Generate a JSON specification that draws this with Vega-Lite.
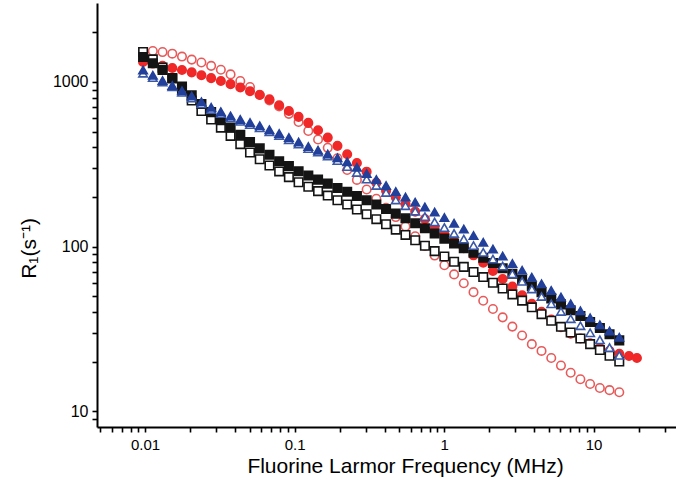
{
  "$schema": "https://vega.github.io/schema/vega-lite/v6.json",
  "autosize": {"type": "none"},
  "width": 579,
  "height": 424,
  "padding": {"left": 97, "top": 3, "right": 0, "bottom": 67},
  "background": "white",
  "config": {"view": {"stroke": null}, "font": "Liberation Sans"},
  "datasets": {
    "pts": [
      {"s":"RO","f":0.01127,"r":1543},{"s":"RO","f":0.01309,"r":1520},{"s":"RO","f":0.01521,"r":1486},{"s":"RO","f":0.01766,"r":1427},{"s":"RO","f":0.02051,"r":1368},{"s":"RO","f":0.02382,"r":1314},{"s":"RO","f":0.02767,"r":1253},{"s":"RO","f":0.03214,"r":1186},{"s":"RO","f":0.03733,"r":1112},{"s":"RO","f":0.04335,"r":1013},{"s":"RO","f":0.05035,"r":932},{"s":"RO","f":0.05848,"r":837},{"s":"RO","f":0.06792,"r":772},{"s":"RO","f":0.07889,"r":709},{"s":"RO","f":0.09162,"r":640},{"s":"RO","f":0.1064,"r":571},{"s":"RO","f":0.1236,"r":504},{"s":"RO","f":0.1436,"r":447},{"s":"RO","f":0.1667,"r":398},{"s":"RO","f":0.1936,"r":344},{"s":"RO","f":0.2249,"r":292},{"s":"RO","f":0.2612,"r":254},{"s":"RO","f":0.3034,"r":222},{"s":"RO","f":0.3524,"r":195},{"s":"RO","f":0.4093,"r":172},{"s":"RO","f":0.4753,"r":151},{"s":"RO","f":0.5521,"r":132.5},{"s":"RO","f":0.6412,"r":115.5},{"s":"RO","f":0.7447,"r":100.8},{"s":"RO","f":0.865,"r":88.1},{"s":"RO","f":1.005,"r":76.9},{"s":"RO","f":1.167,"r":67.7},{"s":"RO","f":1.355,"r":59.8},{"s":"RO","f":1.574,"r":52.8},{"s":"RO","f":1.828,"r":46.8},{"s":"RO","f":2.123,"r":41.7},{"s":"RO","f":2.466,"r":37.1},{"s":"RO","f":2.864,"r":32.6},{"s":"RO","f":3.327,"r":28.8},{"s":"RO","f":3.864,"r":25.5},{"s":"RO","f":4.487,"r":23.2},{"s":"RO","f":5.212,"r":21},{"s":"RO","f":6.053,"r":18.9},{"s":"RO","f":7.031,"r":17.1},{"s":"RO","f":8.166,"r":15.6},{"s":"RO","f":9.484,"r":14.6},{"s":"RO","f":11.02,"r":13.8},{"s":"RO","f":12.79,"r":13.4},{"s":"RO","f":14.86,"r":13},
      {"s":"RF","f":0.0097,"r":1323},{"s":"RF","f":0.01127,"r":1294},{"s":"RF","f":0.01309,"r":1253},{"s":"RF","f":0.01521,"r":1217},{"s":"RF","f":0.01766,"r":1183},{"s":"RF","f":0.02051,"r":1144},{"s":"RF","f":0.02382,"r":1098},{"s":"RF","f":0.02767,"r":1055},{"s":"RF","f":0.03214,"r":1013},{"s":"RF","f":0.03733,"r":970},{"s":"RF","f":0.04335,"r":925},{"s":"RF","f":0.05035,"r":879},{"s":"RF","f":0.05848,"r":834},{"s":"RF","f":0.06792,"r":784},{"s":"RF","f":0.07889,"r":722},{"s":"RF","f":0.09162,"r":666},{"s":"RF","f":0.1064,"r":614},{"s":"RF","f":0.1236,"r":564},{"s":"RF","f":0.1436,"r":509},{"s":"RF","f":0.1667,"r":459},{"s":"RF","f":0.1936,"r":409},{"s":"RF","f":0.2249,"r":364},{"s":"RF","f":0.2612,"r":322},{"s":"RF","f":0.3034,"r":285},{"s":"RF","f":0.3524,"r":244},{"s":"RF","f":0.4093,"r":218},{"s":"RF","f":0.4753,"r":199},{"s":"RF","f":0.5521,"r":181},{"s":"RF","f":0.6412,"r":163},{"s":"RF","f":0.7447,"r":146.7},{"s":"RF","f":0.865,"r":132.3},{"s":"RF","f":1.005,"r":119.1},{"s":"RF","f":1.167,"r":107.8},{"s":"RF","f":1.355,"r":97.6},{"s":"RF","f":1.574,"r":88.4},{"s":"RF","f":1.828,"r":79.7},{"s":"RF","f":2.123,"r":71},{"s":"RF","f":2.466,"r":63.5},{"s":"RF","f":2.864,"r":57.1},{"s":"RF","f":3.327,"r":50.6},{"s":"RF","f":3.864,"r":44.8},{"s":"RF","f":4.487,"r":40.1},{"s":"RF","f":5.212,"r":36},{"s":"RF","f":6.053,"r":32.3},{"s":"RF","f":7.031,"r":29.5},{"s":"RF","f":8.166,"r":27.6},{"s":"RF","f":9.484,"r":25.8},{"s":"RF","f":11.02,"r":24.2},{"s":"RF","f":12.79,"r":23.2},{"s":"RF","f":14.86,"r":22.3},{"s":"RF","f":17.26,"r":21.6},{"s":"RF","f":19.5,"r":21},
      {"s":"BO","f":0.0097,"r":1522},{"s":"BO","f":0.01127,"r":1372},{"s":"BO","f":0.01309,"r":1222},{"s":"BO","f":0.01521,"r":1049},{"s":"BO","f":0.01766,"r":900},{"s":"BO","f":0.02051,"r":772},{"s":"BO","f":0.02382,"r":666},{"s":"BO","f":0.02767,"r":592},{"s":"BO","f":0.03214,"r":528},{"s":"BO","f":0.03733,"r":470},{"s":"BO","f":0.04335,"r":419},{"s":"BO","f":0.05035,"r":373},{"s":"BO","f":0.05848,"r":339},{"s":"BO","f":0.06792,"r":311},{"s":"BO","f":0.07889,"r":286},{"s":"BO","f":0.09162,"r":264},{"s":"BO","f":0.1064,"r":246},{"s":"BO","f":0.1236,"r":231},{"s":"BO","f":0.1436,"r":217},{"s":"BO","f":0.1667,"r":204},{"s":"BO","f":0.1936,"r":191},{"s":"BO","f":0.2249,"r":180},{"s":"BO","f":0.2612,"r":168},{"s":"BO","f":0.3034,"r":157},{"s":"BO","f":0.3524,"r":146.6},{"s":"BO","f":0.4093,"r":136.5},{"s":"BO","f":0.4753,"r":126.7},{"s":"BO","f":0.5521,"r":117.6},{"s":"BO","f":0.6412,"r":109.2},{"s":"BO","f":0.7447,"r":101.1},{"s":"BO","f":0.865,"r":93.8},{"s":"BO","f":1.005,"r":87},{"s":"BO","f":1.167,"r":80.8},{"s":"BO","f":1.355,"r":75.2},{"s":"BO","f":1.574,"r":70},{"s":"BO","f":1.828,"r":65.2},{"s":"BO","f":2.123,"r":60.2},{"s":"BO","f":2.466,"r":55.6},{"s":"BO","f":2.864,"r":51.2},{"s":"BO","f":3.327,"r":46.9},{"s":"BO","f":3.864,"r":42.7},{"s":"BO","f":4.487,"r":38.8},{"s":"BO","f":5.212,"r":35.4},{"s":"BO","f":6.053,"r":32.5},{"s":"BO","f":7.031,"r":30},{"s":"BO","f":8.166,"r":27.6},{"s":"BO","f":9.484,"r":25.5},{"s":"BO","f":11.02,"r":23.5},{"s":"BO","f":12.79,"r":21.7},{"s":"BO","f":14.86,"r":20},
      {"s":"BF","f":0.0097,"r":1419},{"s":"BF","f":0.01127,"r":1299},{"s":"BF","f":0.01309,"r":1183},{"s":"BF","f":0.01521,"r":1058},{"s":"BF","f":0.01766,"r":939},{"s":"BF","f":0.02051,"r":830},{"s":"BF","f":0.02382,"r":734},{"s":"BF","f":0.02767,"r":656},{"s":"BF","f":0.03214,"r":586},{"s":"BF","f":0.03733,"r":528},{"s":"BF","f":0.04335,"r":478},{"s":"BF","f":0.05035,"r":432},{"s":"BF","f":0.05848,"r":395},{"s":"BF","f":0.06792,"r":361},{"s":"BF","f":0.07889,"r":330},{"s":"BF","f":0.09162,"r":308},{"s":"BF","f":0.1064,"r":287},{"s":"BF","f":0.1236,"r":270},{"s":"BF","f":0.1436,"r":255},{"s":"BF","f":0.1667,"r":241},{"s":"BF","f":0.1936,"r":227},{"s":"BF","f":0.2249,"r":215},{"s":"BF","f":0.2612,"r":203},{"s":"BF","f":0.3034,"r":191},{"s":"BF","f":0.3524,"r":180},{"s":"BF","f":0.4093,"r":169},{"s":"BF","f":0.4753,"r":158.5},{"s":"BF","f":0.5521,"r":148.4},{"s":"BF","f":0.6412,"r":138.6},{"s":"BF","f":0.7447,"r":129},{"s":"BF","f":0.865,"r":120.1},{"s":"BF","f":1.005,"r":111.7},{"s":"BF","f":1.167,"r":104.4},{"s":"BF","f":1.355,"r":97.8},{"s":"BF","f":1.574,"r":91.6},{"s":"BF","f":1.828,"r":85.5},{"s":"BF","f":2.123,"r":79.4},{"s":"BF","f":2.466,"r":73.7},{"s":"BF","f":2.864,"r":68.3},{"s":"BF","f":3.327,"r":62.7},{"s":"BF","f":3.864,"r":57.4},{"s":"BF","f":4.487,"r":52.7},{"s":"BF","f":5.212,"r":48.4},{"s":"BF","f":6.053,"r":44.5},{"s":"BF","f":7.031,"r":41},{"s":"BF","f":8.166,"r":37.8},{"s":"BF","f":9.484,"r":34.8},{"s":"BF","f":11.02,"r":32},{"s":"BF","f":12.79,"r":29.3},{"s":"BF","f":14.86,"r":26.9},
      {"s":"BTo","f":0.0097,"r":1130},{"s":"BTo","f":0.01127,"r":1063},{"s":"BTo","f":0.01309,"r":1000},{"s":"BTo","f":0.01521,"r":934},{"s":"BTo","f":0.01766,"r":865},{"s":"BTo","f":0.02051,"r":799},{"s":"BTo","f":0.02382,"r":737},{"s":"BTo","f":0.02767,"r":681},{"s":"BTo","f":0.03214,"r":642},{"s":"BTo","f":0.03733,"r":605},{"s":"BTo","f":0.04335,"r":576},{"s":"BTo","f":0.05035,"r":551},{"s":"BTo","f":0.05848,"r":526},{"s":"BTo","f":0.06792,"r":499},{"s":"BTo","f":0.07889,"r":473},{"s":"BTo","f":0.09162,"r":446},{"s":"BTo","f":0.1064,"r":419},{"s":"BTo","f":0.1236,"r":394},{"s":"BTo","f":0.1436,"r":375},{"s":"BTo","f":0.1667,"r":355},{"s":"BTo","f":0.1936,"r":333},{"s":"BTo","f":0.2249,"r":306},{"s":"BTo","f":0.2612,"r":282},{"s":"BTo","f":0.3034,"r":257},{"s":"BTo","f":0.3524,"r":235},{"s":"BTo","f":0.4093,"r":213},{"s":"BTo","f":0.4753,"r":192},{"s":"BTo","f":0.5521,"r":177},{"s":"BTo","f":0.6412,"r":164},{"s":"BTo","f":0.7447,"r":152},{"s":"BTo","f":0.865,"r":141.1},{"s":"BTo","f":1.005,"r":130.3},{"s":"BTo","f":1.167,"r":120.1},{"s":"BTo","f":1.355,"r":110.9},{"s":"BTo","f":1.574,"r":101.4},{"s":"BTo","f":1.828,"r":92.2},{"s":"BTo","f":2.123,"r":83.9},{"s":"BTo","f":2.466,"r":76.1},{"s":"BTo","f":2.864,"r":68.3},{"s":"BTo","f":3.327,"r":61.4},{"s":"BTo","f":3.864,"r":55.2},{"s":"BTo","f":4.487,"r":49.7},{"s":"BTo","f":5.212,"r":44.8},{"s":"BTo","f":6.053,"r":40.3},{"s":"BTo","f":7.031,"r":36.4},{"s":"BTo","f":8.166,"r":33},{"s":"BTo","f":9.484,"r":29.9},{"s":"BTo","f":11.02,"r":27.1},{"s":"BTo","f":12.79,"r":24.3},{"s":"BTo","f":14.86,"r":21.8},
      {"s":"BT","f":0.0097,"r":1183},{"s":"BT","f":0.01127,"r":1098},{"s":"BT","f":0.01309,"r":1021},{"s":"BT","f":0.01521,"r":950},{"s":"BT","f":0.01766,"r":885},{"s":"BT","f":0.02051,"r":822},{"s":"BT","f":0.02382,"r":758},{"s":"BT","f":0.02767,"r":701},{"s":"BT","f":0.03214,"r":660},{"s":"BT","f":0.03733,"r":622},{"s":"BT","f":0.04335,"r":592},{"s":"BT","f":0.05035,"r":567},{"s":"BT","f":0.05848,"r":541},{"s":"BT","f":0.06792,"r":513},{"s":"BT","f":0.07889,"r":486},{"s":"BT","f":0.09162,"r":459},{"s":"BT","f":0.1064,"r":431},{"s":"BT","f":0.1236,"r":405},{"s":"BT","f":0.1436,"r":385},{"s":"BT","f":0.1667,"r":365},{"s":"BT","f":0.1936,"r":346},{"s":"BT","f":0.2249,"r":327},{"s":"BT","f":0.2612,"r":303},{"s":"BT","f":0.3034,"r":278},{"s":"BT","f":0.3524,"r":255},{"s":"BT","f":0.4093,"r":235},{"s":"BT","f":0.4753,"r":216},{"s":"BT","f":0.5521,"r":200},{"s":"BT","f":0.6412,"r":186},{"s":"BT","f":0.7447,"r":174},{"s":"BT","f":0.865,"r":162},{"s":"BT","f":1.005,"r":150},{"s":"BT","f":1.167,"r":138.6},{"s":"BT","f":1.355,"r":127.6},{"s":"BT","f":1.574,"r":116.7},{"s":"BT","f":1.828,"r":106.2},{"s":"BT","f":2.123,"r":96.6},{"s":"BT","f":2.466,"r":87.5},{"s":"BT","f":2.864,"r":78.8},{"s":"BT","f":3.327,"r":71.6},{"s":"BT","f":3.864,"r":65.1},{"s":"BT","f":4.487,"r":59.3},{"s":"BT","f":5.212,"r":54.1},{"s":"BT","f":6.053,"r":49.3},{"s":"BT","f":7.031,"r":44.9},{"s":"BT","f":8.166,"r":40.7},{"s":"BT","f":9.484,"r":36.9},{"s":"BT","f":11.02,"r":33.4},{"s":"BT","f":12.79,"r":30.6},{"s":"BT","f":14.86,"r":28.1}
    ]
  },
  "data": {"name": "pts"},
  "mark": {"type": "point", "size": 72, "strokeWidth": 1.6, "opacity": 1},
  "encoding": {
    "x": {
      "field": "f", "type": "quantitative",
      "scale": {"type": "log", "domain": [0.00477, 35.6], "nice": false},
      "axis": {
        "title": "Fluorine Larmor Frequency (MHz)",
        "values": [0.005,0.006,0.007,0.008,0.009,0.01,0.02,0.03,0.04,0.05,0.06,0.07,0.08,0.09,0.1,0.2,0.3,0.4,0.5,0.6,0.7,0.8,0.9,1,2,3,4,5,6,7,8,9,10,20,30],
        "labelExpr": "datum.value == 0.01 ? '0.01' : datum.value == 0.1 ? '0.1' : datum.value == 1 ? '1' : datum.value == 10 ? '10' : ''",
        "labelOverlap": false,
        "labelFontSize": 15, "labelColor": "black", "labelPadding": 5,
        "tickSize": 5,
        "tickColor": "black", "tickWidth": 1.6,
        "domainColor": "black", "domainWidth": 2,
        "grid": false,
        "titleFontSize": 21, "titleFontWeight": "normal", "titleColor": "black",
        "titleX": 308, "titleY": 39, "titleBaseline": "middle"
      }
    },
    "y": {
      "field": "r", "type": "quantitative",
      "scale": {"type": "log", "domain": [8.0, 3020], "nice": false},
      "axis": {
        "title": "R₁(s⁻¹)",
        "values": [9,10,20,30,40,50,60,70,80,90,100,200,300,400,500,600,700,800,900,1000,2000],
        "labelExpr": "datum.value == 10 ? '10' : datum.value == 100 ? '100' : datum.value == 1000 ? '1000' : ''",
        "labelOverlap": false,
        "labelFontSize": 16, "labelColor": "black", "labelPadding": 4,
        "tickSize": 5,
        "tickColor": "black", "tickWidth": 1.6,
        "domainColor": "black", "domainWidth": 2,
        "grid": false,
        "titleFontSize": 21, "titleFontWeight": "normal", "titleColor": "black",
        "titleX": -68, "titleY": 245, "titleAngle": 270, "titleAlign": "center", "titleBaseline": "middle"
      }
    },
    "shape": {
      "field": "s", "type": "nominal", "legend": null,
      "scale": {"domain": ["RO","RF","BO","BF","BTo","BT"], "range": ["circle","circle","square","square","triangle-up","triangle-up"]}
    },
    "fill": {
      "field": "s", "type": "nominal", "legend": null,
      "scale": {"domain": ["RO","RF","BO","BF","BTo","BT"], "range": ["white","#f02828","white","#141414","white","#22409a"]}
    },
    "stroke": {
      "field": "s", "type": "nominal", "legend": null,
      "scale": {"domain": ["RO","RF","BO","BF","BTo","BT"], "range": ["#e85a5a","#f02828","#141414","#141414","#3a58a6","#22409a"]}
    }
  }
}
